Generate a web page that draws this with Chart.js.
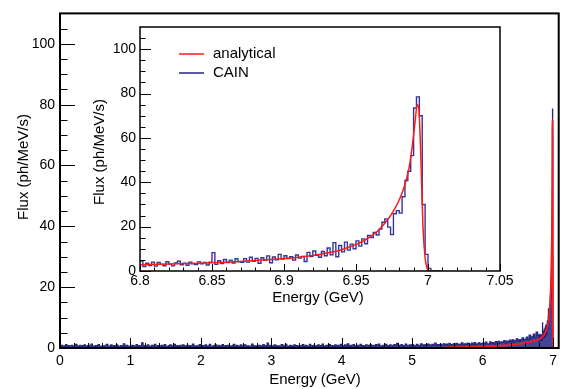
<!DOCTYPE html>
<html>
<head>
<meta charset="utf-8">
<script src="https://cdn.jsdelivr.net/npm/chart.js@4"></script>
<style>
  body { margin: 0; background: #fff; }
  #wrap { position: relative; width: 562px; height: 389px; }
  #wrap canvas { position: absolute; left: 0; top: 0; }
</style>
</head>
<body>
<div id="wrap">
  <canvas id="main" width="562" height="389"></canvas>
  <canvas id="inset" width="562" height="389"></canvas>
</div>
<script>
// CAIN spectrum, coarse bins (0.02 GeV) from 0 to 6.8 GeV
const coarseStart = 0;
const coarseBin = 0.02;
const coarseFlux = [
  0.6,0.9,0.4,0.7,1.1,0.5,0.8,0.3,0.9,0.6,
  0.4,1.2,0.7,0.5,0.9,0.3,0.8,1.0,0.5,0.7,
  0.9,0.5,1.3,0.6,0.4,0.8,0.7,1.1,0.3,0.6,
  0.7,0.4,0.9,1.2,0.5,0.6,1.0,0.4,0.8,0.5,
  1.0,0.6,0.3,0.8,0.7,1.4,0.5,0.9,0.6,0.4,
  0.5,0.9,0.7,0.4,1.1,0.6,0.8,0.3,1.7,0.6,
  0.8,0.5,1.0,0.6,0.4,0.9,0.7,1.2,0.5,0.8,
  0.4,0.7,0.9,0.5,1.1,0.6,0.3,0.8,1.0,0.6,
  0.7,1.2,0.5,0.8,0.4,0.9,0.6,1.0,0.7,0.5,
  0.9,0.4,0.8,0.6,1.3,0.5,0.7,0.4,0.9,1.1,
  0.5,0.8,0.6,1.0,0.4,0.7,1.2,0.6,0.3,0.8,
  1.0,0.6,0.9,0.5,0.7,1.1,0.4,0.8,0.6,0.9,
  0.6,0.3,0.8,1.2,0.5,0.9,0.7,0.4,1.0,0.6,
  0.8,1.0,0.5,0.7,0.4,0.6,1.3,0.8,0.5,0.7,
  0.4,0.9,0.7,0.5,1.1,0.6,0.8,1.6,0.5,0.9,
  0.7,0.5,1.0,0.8,0.4,0.7,0.6,1.1,0.9,0.5,
  1.2,0.6,0.4,0.9,0.7,0.5,1.0,0.6,0.8,0.4,
  0.6,0.8,1.1,0.5,0.9,0.7,0.4,1.2,0.6,0.8,
  0.9,0.5,0.7,1.0,0.6,0.8,1.3,0.5,0.7,0.9,
  0.5,1.1,0.6,0.8,0.4,1.0,0.7,0.9,0.6,1.2,
  0.8,0.6,1.0,0.7,1.4,0.5,0.9,0.6,1.1,0.7,
  0.6,0.9,0.5,1.2,0.7,0.8,0.5,1.0,0.9,0.6,
  1.0,0.7,0.9,0.6,1.1,0.8,1.3,0.7,0.5,0.9,
  0.7,1.2,0.8,0.5,1.0,0.9,0.6,1.1,0.8,1.5,
  0.9,0.6,1.1,0.8,0.7,1.3,0.9,0.6,1.0,0.8,
  1.1,0.8,0.6,1.2,0.9,0.7,1.4,1.0,0.8,1.1,
  0.8,1.3,1.0,0.7,1.2,0.9,1.6,0.8,1.1,1.0,
  1.2,0.9,1.4,1.0,1.3,0.8,1.5,1.1,1.0,1.4,
  1.1,1.5,0.9,1.3,1.2,1.7,1.0,1.4,1.2,1.6,
  1.3,1.0,1.6,1.2,1.8,1.1,1.4,1.7,1.2,1.5,
  1.6,1.3,1.9,1.4,1.2,2.0,1.5,1.8,1.3,2.1,
  1.7,2.2,1.5,2.0,1.8,2.4,1.6,2.3,1.9,2.6,
  2.1,2.7,1.9,2.5,3.0,2.2,2.8,2.4,3.3,2.6,
  2.9,3.6,2.7,4.2,3.1,3.8,4.6,3.3,5.2,4.0
];

// CAIN spectrum, fine bins (0.002 GeV) from 6.8 GeV
const fineStart = 6.8;
const fineBin = 0.002;
const fineFlux = [
  4.5,2.0,3.5,2.5,4.0,2.2,3.8,3.0,2.4,4.2,
  3.1,2.3,3.6,4.4,2.8,3.5,2.6,4.0,3.2,2.9,
  4.1,3.3,3.9,2.7,4.0,8.3,3.0,4.6,3.4,5.2,
  3.8,4.9,3.6,5.5,4.2,3.9,5.6,4.0,6.2,4.4,
  5.7,3.5,6.0,4.8,6.8,3.7,6.3,5.1,7.5,5.4,
  6.9,5.6,6.4,4.9,7.2,5.8,6.6,4.3,8.4,6.5,
  9.0,7.1,6.2,8.8,6.9,10.4,7.3,12.8,6.4,11.5,
  8.6,13.0,9.4,12.1,10.0,13.6,11.2,14.5,12.3,16.0,
  15.1,17.4,16.2,18.9,22.0,23.5,19.8,16.4,25.8,27.2,
  26.1,33.5,40.8,45.0,52.0,73.5,78.5,70.0,30.0,7.5,
  1.2,0,0,0,0
];

// analytical spectrum
const analyticE = [5.45,5.6,5.8,6.0,6.2,6.4,6.5,6.6,6.7,6.8,6.82,6.84,6.86,6.88,6.9,6.91,6.92,6.93,6.94,6.95,6.955,6.96,6.965,6.97,6.975,6.98,6.984,6.987,6.989,6.991,6.9925,6.9935,6.995,6.9965,6.998,6.999,7.0,7.002,7.004];
const analyticFlux = [0.2,0.25,0.35,0.5,0.7,1.0,1.3,1.7,2.2,2.8,3.1,3.5,4.0,4.7,5.6,6.2,7.0,8.1,9.6,12.0,13.5,15.5,18.0,21.5,26.0,32.0,39.0,47.0,56.0,67.0,75.0,74.0,52.0,20.0,6.0,2.0,0.5,0,0];

const seriesNames = ["analytical", "CAIN"];

const RED = "#ff1a1a";
const NAVY = "#232380";
const FONT = "'Liberation Sans', Arial, sans-serif";

// histogram points (bin start, value), closed by last bin edge
const finePts = fineFlux.map((v, i) => ({ x: fineStart + i * fineBin, y: v }));
finePts.push({ x: fineStart + fineFlux.length * fineBin, y: 0 });
const coarsePts = coarseFlux.map((v, i) => ({ x: coarseStart + i * coarseBin, y: v }));
const mainPts = coarsePts.concat(finePts);
const analyticPts = analyticE.map((e, i) => ({ x: e, y: analyticFlux[i] }));

// ROOT-like frame, inward ticks, axis titles and legend
function rootFrame(o) {
  return {
    id: "rootFrame",
    afterDraw(chart) {
      const ctx = chart.ctx, ca = chart.chartArea;
      const xs = chart.scales.x, ys = chart.scales.y;
      ctx.save();
      ctx.strokeStyle = "#000";
      ctx.lineWidth = 1;
      ctx.beginPath();
      const nx = Math.round((xs.max - xs.min) / o.xMinor);
      for (let k = 0; k <= nx; k++) {
        const v = xs.min + k * o.xMinor;
        if (v > xs.max + 1e-9) break;
        const px = Math.round(xs.getPixelForValue(v)) + 0.5;
        const major = Math.abs(v / o.xMajor - Math.round(v / o.xMajor)) < 1e-6;
        const len = major ? o.xTickMajor : o.xTickMajor / 2;
        ctx.moveTo(px, ca.bottom);
        ctx.lineTo(px, ca.bottom - len);
      }
      for (let v = ys.min; v < ys.max - 1e-9; v += o.yMinor) {
        const py = Math.round(ys.getPixelForValue(v)) + 0.5;
        const major = Math.abs(v / o.yMajor - Math.round(v / o.yMajor)) < 1e-6;
        const len = major ? o.yTickMajor : o.yTickMajor / 2;
        ctx.moveTo(ca.left, py);
        ctx.lineTo(ca.left + len, py);
      }
      ctx.stroke();
      ctx.lineWidth = o.frameWidth;
      ctx.strokeRect(ca.left, ca.top, ca.right - ca.left, ca.bottom - ca.top);

      ctx.fillStyle = "#000";
      ctx.font = "15px " + FONT;
      ctx.textAlign = "center";
      ctx.textBaseline = "middle";
      ctx.fillText(o.xTitle, o.xTitlePos[0], o.xTitlePos[1]);
      ctx.save();
      ctx.translate(o.yTitlePos[0], o.yTitlePos[1]);
      ctx.rotate(-Math.PI / 2);
      ctx.fillText(o.yTitle, 0, 0);
      ctx.restore();

      if (o.legend) {
        const lg = o.legend;
        ctx.textAlign = "left";
        lg.items.forEach((it, i) => {
          const y = lg.y + i * lg.gap;
          ctx.strokeStyle = it.color;
          ctx.lineWidth = it.width;
          ctx.beginPath();
          ctx.moveTo(lg.x, y);
          ctx.lineTo(lg.x + 25, y);
          ctx.stroke();
          ctx.fillText(it.label, lg.x + 34, y);
        });
      }
      ctx.restore();
    }
  };
}

const tickFont = { family: FONT, size: 14 };

// main chart
new Chart(document.getElementById("main").getContext("2d"), {
  type: "line",
  data: {
    datasets: [
      {
        label: seriesNames[0],
        data: analyticPts,
        borderColor: RED,
        borderWidth: 1.8,
        pointRadius: 0,
        cubicInterpolationMode: "monotone",
        fill: false
      },
      {
        label: seriesNames[1],
        data: mainPts,
        borderColor: NAVY,
        backgroundColor: "rgba(35, 35, 128, 0.85)",
        borderWidth: 1.2,
        pointRadius: 0,
        stepped: "before",
        fill: "origin"
      }
    ]
  },
  options: {
    responsive: false,
    animation: false,
    events: [],
    layout: { padding: { left: 0, top: 10, right: 3, bottom: 0 } },
    plugins: { legend: { display: false }, tooltip: { enabled: false } },
    scales: {
      x: {
        type: "linear",
        min: 0,
        max: 7.08,
        grid: { display: false, drawTicks: false },
        border: { display: false },
        ticks: { stepSize: 1, includeBounds: false, color: "#000", font: tickFont, padding: 5, maxRotation: 0 },
        afterFit: (s) => { s.height = 41; }
      },
      y: {
        min: 0,
        max: 110,
        grid: { display: false, drawTicks: false },
        border: { display: false },
        ticks: { stepSize: 20, includeBounds: false, color: "#000", font: tickFont, padding: 5 },
        afterFit: (s) => { s.width = 60; }
      }
    }
  },
  plugins: [rootFrame({
    xMinor: 0.2, xMajor: 1, xTickMajor: 10,
    yMinor: 5, yMajor: 20, yTickMajor: 15,
    frameWidth: 2,
    xTitle: "Energy (GeV)", xTitlePos: [315, 380],
    yTitle: "Flux (ph/MeV/s)", yTitlePos: [24, 167]
  })]
});

// inset chart
new Chart(document.getElementById("inset").getContext("2d"), {
  type: "line",
  data: {
    datasets: [
      {
        label: seriesNames[0],
        data: analyticPts,
        borderColor: RED,
        borderWidth: 1.5,
        pointRadius: 0,
        cubicInterpolationMode: "monotone",
        fill: false
      },
      {
        label: seriesNames[1],
        data: finePts,
        borderColor: "#34349a",
        borderWidth: 1.4,
        pointRadius: 0,
        stepped: "before",
        fill: false
      }
    ]
  },
  options: {
    responsive: false,
    animation: false,
    events: [],
    layout: { padding: { left: 100, top: 27, right: 62, bottom: 88 } },
    plugins: { legend: { display: false }, tooltip: { enabled: false } },
    scales: {
      x: {
        type: "linear",
        min: 6.8,
        max: 7.05,
        grid: { display: false, drawTicks: false },
        border: { display: false },
        ticks: {
          stepSize: 0.05, color: "#000", font: tickFont, padding: 2, maxRotation: 0,
          callback: (v) => String(+v.toFixed(2))
        },
        afterFit: (s) => { s.height = 30; }
      },
      y: {
        min: 0,
        max: 110,
        grid: { display: false, drawTicks: false },
        border: { display: false },
        ticks: { stepSize: 20, includeBounds: false, color: "#000", font: tickFont, padding: 4 },
        afterFit: (s) => { s.width = 40; }
      }
    }
  },
  plugins: [rootFrame({
    xMinor: 0.01, xMajor: 0.05, xTickMajor: 7,
    yMinor: 5, yMajor: 20, yTickMajor: 11,
    frameWidth: 1.5,
    xTitle: "Energy (GeV)", xTitlePos: [318, 298],
    yTitle: "Flux (ph/MeV/s)", yTitlePos: [100, 152],
    legend: {
      x: 179, y: 54, gap: 19,
      items: [
        { label: seriesNames[0], color: RED, width: 1.5 },
        { label: seriesNames[1], color: NAVY, width: 1.5 }
      ]
    }
  })]
});
</script>
</body>
</html>
